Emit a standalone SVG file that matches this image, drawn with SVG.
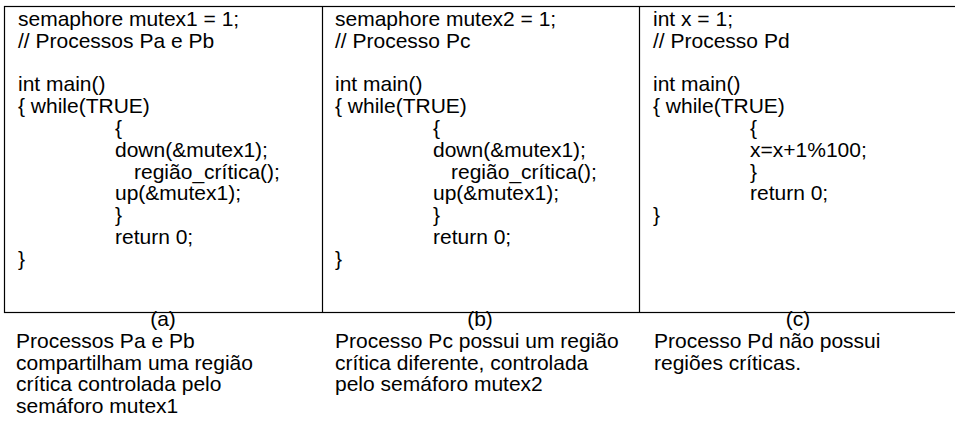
<svg xmlns="http://www.w3.org/2000/svg" width="955" height="430" viewBox="0 0 955 430">
<style>
text{font-family:"Liberation Sans",Arial,Helvetica,sans-serif;font-size:21px;fill:#000}
.c{text-anchor:middle}
.box{fill:#fff;stroke:#000;stroke-width:1.2}
.rule{stroke:#000;stroke-width:1.2}
</style>
<rect width="955" height="430" fill="#fff"/>
<g id="table">
<rect class="box" x="4.5" y="6.5" width="952" height="306"/>
<line class="rule" x1="322.5" y1="6.5" x2="322.5" y2="312.5"/>
<line class="rule" x1="639.5" y1="6.5" x2="639.5" y2="312.5"/>
</g>
<g id="col-a">
<text x="18" y="26">semaphore mutex1 = 1;</text>
<text x="18" y="48">// Processos Pa e Pb</text>
<text x="18" y="91">int main()</text>
<text x="18" y="113">{ while(TRUE)</text>
<text x="115" y="135">{</text>
<text x="115" y="157">down(&amp;mutex1);</text>
<text x="134" y="179">região_crítica();</text>
<text x="115" y="200">up(&amp;mutex1);</text>
<text x="115" y="222">}</text>
<text x="115" y="244">return 0;</text>
<text x="18" y="266">}</text>
<text class="c" x="163" y="326">(a)</text>
<text x="16" y="348">Processos Pa e Pb</text>
<text x="16" y="369.5">compartilham uma região</text>
<text x="16" y="391">crítica controlada pelo</text>
<text x="16" y="412.5">semáforo mutex1</text>
</g>
<g id="col-b">
<text x="335" y="26">semaphore mutex2 = 1;</text>
<text x="335" y="48">// Processo Pc</text>
<text x="335" y="91">int main()</text>
<text x="335" y="113">{ while(TRUE)</text>
<text x="433" y="135">{</text>
<text x="433" y="157">down(&amp;mutex1);</text>
<text x="451" y="179">região_crítica();</text>
<text x="433" y="200">up(&amp;mutex1);</text>
<text x="433" y="222">}</text>
<text x="433" y="244">return 0;</text>
<text x="335" y="266">}</text>
<text class="c" x="480" y="326">(b)</text>
<text x="335" y="348">Processo Pc possui um região</text>
<text x="335" y="369.5">crítica diferente, controlada</text>
<text x="335" y="391">pelo semáforo mutex2</text>
</g>
<g id="col-c">
<text x="653" y="26">int x = 1;</text>
<text x="653" y="48">// Processo Pd</text>
<text x="653" y="91">int main()</text>
<text x="653" y="113">{ while(TRUE)</text>
<text x="750" y="135">{</text>
<text x="750" y="157">x=x+1%100;</text>
<text x="750" y="179">}</text>
<text x="750" y="200">return 0;</text>
<text x="653" y="222">}</text>
<text class="c" x="798" y="326">(c)</text>
<text x="654" y="348">Processo Pd não possui</text>
<text x="654" y="369.5">regiões críticas.</text>
</g>
<g id="connectors"/>
</svg>
